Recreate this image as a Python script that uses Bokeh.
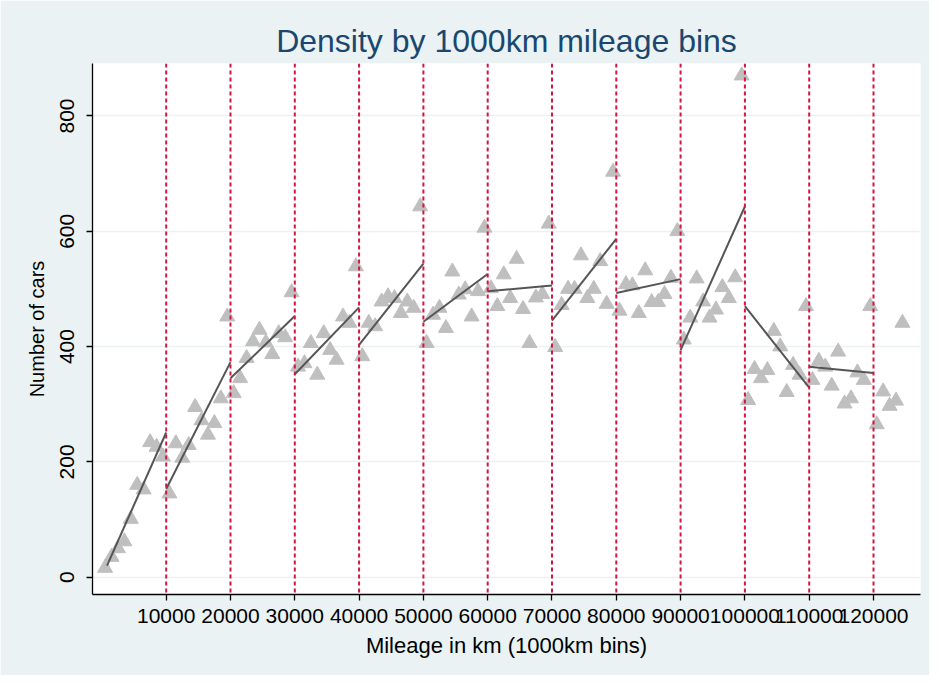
from bokeh.plotting import figure
from bokeh.models import Range1d, FixedTicker, Span, ColumnDataSource
from bokeh.embed import file_html
from bokeh.resources import INLINE

# ---- data -------------------------------------------------------------
bin_width_km = 1000
first_bin_mid = 500

cars_0_10k = [16, 35, 50, 62, 101, 160, 152, 234, 226, 209]
cars_10_20k = [145, 232, 207, 229, 295, 272, 247, 267, 310, 452]
cars_20_30k = [319, 345, 380, 409, 429, 407, 387, 423, 416, 494]
cars_30_40k = [365, 371, 406, 351, 423, 394, 377, 452, 441, 539]
cars_40_50k = [383, 441, 435, 478, 487, 484, 458, 478, 467, 643]
cars_50_60k = [406, 455, 467, 432, 530, 490, 499, 452, 496, 606]
cars_60_70k = [501, 470, 525, 484, 552, 465, 406, 485, 491, 613]
cars_70_80k = [399, 472, 500, 500, 558, 484, 500, 548, 474, 703]
cars_80_90k = [462, 508, 506, 458, 532, 477, 477, 491, 519, 600]
cars_90_100k = [412, 450, 518, 478, 450, 464, 503, 484, 520, 870]
cars_100_110k = [307, 361, 345, 359, 427, 400, 321, 368, 351, 470]
cars_110_120k = [342, 375, 365, 332, 391, 301, 310, 355, 342, 470]
cars_120k_plus = [265, 322, 297, 306, 441]

# linear fit per 10000 km segment (start/end of each segment)
fit_x0 = [800, 10000, 20000, 30000, 40000, 50000, 60000, 70000, 80000, 90000, 100000, 110000]
fit_x1 = [10000, 20000, 30000, 40000, 50000, 60000, 70000, 80000, 90000, 100000, 110000, 120000]
fit_y0 = [20, 153, 345, 352, 403, 443, 496, 445, 493, 394, 470, 365]
fit_y1 = [251, 373, 453, 468, 544, 526, 506, 587, 517, 643, 329, 354]

cutoffs = [10000, 20000, 30000, 40000, 50000, 60000, 70000, 80000, 90000, 100000, 110000, 120000]
x_ticks = [10000, 20000, 30000, 40000, 50000, 60000, 70000, 80000, 90000, 100000, 110000, 120000]
x_tick_labels = ["10000", "20000", "30000", "40000", "50000", "60000", "70000",
                 "80000", "90000", "100000", "110000", "120000"]
y_ticks = [0, 200, 400, 600, 800]
y_tick_labels = ["0", "200", "400", "600", "800"]

counts = (cars_0_10k + cars_10_20k + cars_20_30k + cars_30_40k + cars_40_50k
          + cars_50_60k + cars_60_70k + cars_70_80k + cars_80_90k + cars_90_100k
          + cars_100_110k + cars_110_120k + cars_120k_plus)
mileage = [first_bin_mid + bin_width_km * i for i in range(len(counts))]

# ---- figure -----------------------------------------------------------
FONT = "Liberation Sans"
BG = "#eaf2f3"

p = figure(width=929, height=675, output_backend="svg", toolbar_location=None,
           x_range=Range1d(-1460, 127310), y_range=Range1d(-30, 891),
           title="Density by 1000km mileage bins")
p.min_border_left = 92
p.min_border_right = 9
p.min_border_top = 63
p.min_border_bottom = 81
p.border_fill_color = BG
p.background_fill_color = "white"
p.outline_line_color = None

p.title.text_font = FONT
p.title.text_font_size = "32px"
p.title.text_font_style = "normal"
p.title.text_color = "#1a476f"
p.title.align = "center"

p.xgrid.grid_line_color = None
p.ygrid.grid_line_color = BG
p.ygrid.grid_line_width = 1.5
p.ygrid.ticker = FixedTicker(ticks=y_ticks)

p.xaxis.ticker = FixedTicker(ticks=x_ticks)
p.yaxis.ticker = FixedTicker(ticks=y_ticks)
p.xaxis.major_label_overrides = {t: s for t, s in zip(x_ticks, x_tick_labels)}
p.yaxis.major_label_overrides = {t: s for t, s in zip(y_ticks, y_tick_labels)}
p.xaxis.axis_label = "Mileage in km (1000km bins)"
p.yaxis.axis_label = "Number of cars"
p.yaxis.major_label_orientation = "vertical"
for ax in (p.xaxis, p.yaxis):
    ax.axis_label_text_font = FONT
    ax.axis_label_text_font_style = "normal"
    ax.axis_label_text_color = "black"
    ax.major_label_text_font = FONT
    ax.major_label_text_font_size = "21px"
    ax.major_label_text_color = "black"
    ax.axis_line_color = "black"
    ax.axis_line_width = 1.3
    ax.major_tick_line_color = "black"
    ax.major_tick_line_width = 1.3
    ax.major_tick_in = 0
    ax.major_tick_out = 6
    ax.minor_tick_line_color = None
p.xaxis.axis_label_text_font_size = "22px"
p.yaxis.axis_label_text_font_size = "20px"
p.xaxis.major_label_standoff = 8
p.xaxis.axis_label_standoff = 7
p.yaxis.major_label_standoff = 12
p.yaxis.axis_label_standoff = 10

src = ColumnDataSource(dict(x=mileage, y=counts))
p.scatter("x", "y", source=src, marker="triangle", size=15,
          fill_color="#bfbfbf", line_color="#bfbfbf")

fit = ColumnDataSource(dict(x0=fit_x0, x1=fit_x1, y0=fit_y0, y1=fit_y1))
p.segment("x0", "y0", "x1", "y1", source=fit, line_color="#555555", line_width=2)

for c in cutoffs:
    p.add_layout(Span(location=c, dimension="height", line_color="#d3163f",
                      line_width=2, line_dash="4 3"))

open("out.html", "w").write(file_html(p, INLINE))
